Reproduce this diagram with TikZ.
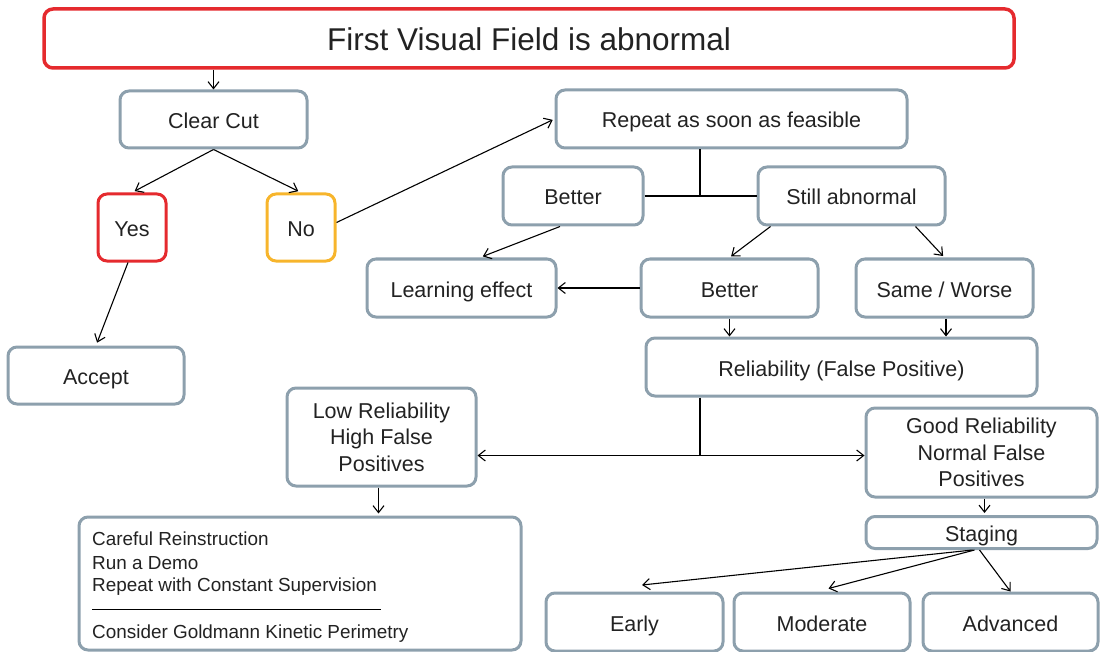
\documentclass[tikz,border=0pt]{standalone}
\usepackage{fontspec}
\setmainfont{Liberation Sans}
\usetikzlibrary{arrows.meta}
\definecolor{boxgray}{HTML}{8DA0AD}
\definecolor{boxred}{HTML}{E52A2E}
\definecolor{boxorange}{HTML}{F7B52C}
\definecolor{txt}{HTML}{222222}
\begin{document}
\begin{tikzpicture}[x=1pt,y=-1pt,
  box/.style={draw=boxgray, line width=3pt, rounded corners=9pt, text=txt,
    font=\fontsize{21.5}{26.5}\selectfont, align=center, inner sep=0pt},
  one/.style={box, text height=22pt, text depth=4pt},
  redbox/.style={one, draw=boxred},
  orangebox/.style={one, draw=boxorange},
  conn/.style={line width=1.1pt, draw=black},
  arr/.style={conn, -{Straight Barb[length=7pt,width=11pt]}},
  small/.style={anchor=base west, text=txt, font=\fontsize{18.9}{23}\selectfont, inner sep=0pt}
]
\useasboundingbox (0,0) rectangle (1102,652);

\node[redbox, line width=3.5pt, minimum width=970, minimum height=59,
      font=\fontsize{31.5}{36}\selectfont, text height=28.4pt, text depth=4pt] (title) at (529,38.5) {First Visual Field is abnormal};
\node[one, minimum width=187, minimum height=57] (clear) at (213.5,119.5) {Clear Cut};
\node[redbox, minimum width=68, minimum height=67] (yes) at (132,227.5) {Yes};
\node[orangebox, minimum width=68, minimum height=67] (no) at (301,227.5) {No};
\node[one, minimum width=176, minimum height=57] (accept) at (96,375.5) {Accept};
\node[one, minimum width=351, minimum height=58] (repeat) at (731.5,119) {Repeat as soon as feasible};
\node[one, minimum width=140, minimum height=58] (better1) at (573,196) {Better};
\node[one, minimum width=187, minimum height=58] (still) at (851.5,196) {Still abnormal};
\node[one, minimum width=189, minimum height=58] (learn) at (461.5,288) {Learning effect};
\node[one, minimum width=177, minimum height=58] (better2) at (729.5,288) {Better};
\node[one, minimum width=177, minimum height=58] (same) at (944.5,288) {Same / Worse};
\node[one, minimum width=391, minimum height=58] (rel) at (841.5,367) {Reliability (False Positive)};
\node[box, minimum width=189, minimum height=98] (low) at (381.5,437) {Low Reliability\\High False\\Positives};
\node[box, minimum width=231, minimum height=89] (good) at (981.5,452.5) {Good Reliability\\Normal False\\Positives};
\node[one, minimum width=231, minimum height=32] (staging) at (981.5,532.5) {Staging};
\node[box, minimum width=442, minimum height=133] (careful) at (300,583.5) {};
\node[one, minimum width=177, minimum height=58] (early) at (634.5,622) {Early};
\node[one, minimum width=176, minimum height=58] (moderate) at (822,622) {Moderate};
\node[one, minimum width=175, minimum height=58] (advanced) at (1010.5,622) {Advanced};

\node[small] (c1) at (92,545.7) {Careful Reinstruction};
\node[small] (c2) at (92,569) {Run a Demo};
\node[small] (c3) at (92,591.7) {Repeat with Constant Supervision};
\node[small] (c4) at (92,638.3) {Consider Goldmann Kinetic Perimetry};
\coordinate (r1) at (92,609.3);
\coordinate (r2) at (381,609.3);
\draw[line width=1.6pt] (r1) -- (r2);

% connectors
\draw[arr] (title.south -| clear.north) -- (clear.north);
\draw[arr, shorten >=3pt] (clear.south) -- (yes.north);
\draw[arr, shorten >=3pt] (clear.south) -- (no.north);
\draw[arr, shorten >=3pt] ([xshift=-4pt]yes.south) -- (accept.north);
\draw[arr, shorten >=2pt] ([yshift=5pt]no.east) -- (repeat.west);
\draw[conn] ([xshift=-31.5pt]repeat.south) -- ([xshift=-31.5pt]repeat.south |- better1.east);
\draw[conn] (better1.east) -- (still.west);
\draw[arr, shorten >=3pt] ([xshift=-13pt]better1.south) -- ([xshift=18.5pt]learn.north);
\draw[arr, shorten >=2pt] ([xshift=-81pt]still.south) -- (better2.north);
\draw[arr, shorten >=2pt] ([xshift=64pt]still.south) -- (same.north);
\draw[arr] (better2.west) -- (learn.east);
\draw[arr] (better2.south) -- (better2.south |- rel.north);
\draw[arr] ([xshift=1.5pt]same.south) -- ([xshift=1.5pt]same.south |- rel.north);
\coordinate (j2) at ([xshift=-141.5pt,yshift=-58pt]rel.south);
\draw[conn] ([xshift=-141.5pt]rel.south) -- (j2);
\draw[arr] (j2) -- (j2 -| low.east);
\draw[arr] (j2) -- (j2 -| good.west);
\draw[arr, shorten >=2pt] ([xshift=-3pt]low.south) -- ([xshift=-3pt]low.south |- careful.north);
\draw[arr, shorten >=2pt] ([xshift=3pt]good.south) -- ([xshift=3pt]good.south |- staging.north);
\draw[arr] ([xshift=-9pt]staging.south) -- ([xshift=7.5pt,yshift=6.5pt]early.north);
\draw[arr] ([xshift=-7pt]staging.south) -- ([xshift=6.5pt,yshift=3pt]moderate.north);
\draw[arr] ([xshift=-2pt]staging.south) -- (advanced.north);
\end{tikzpicture}
\end{document}
